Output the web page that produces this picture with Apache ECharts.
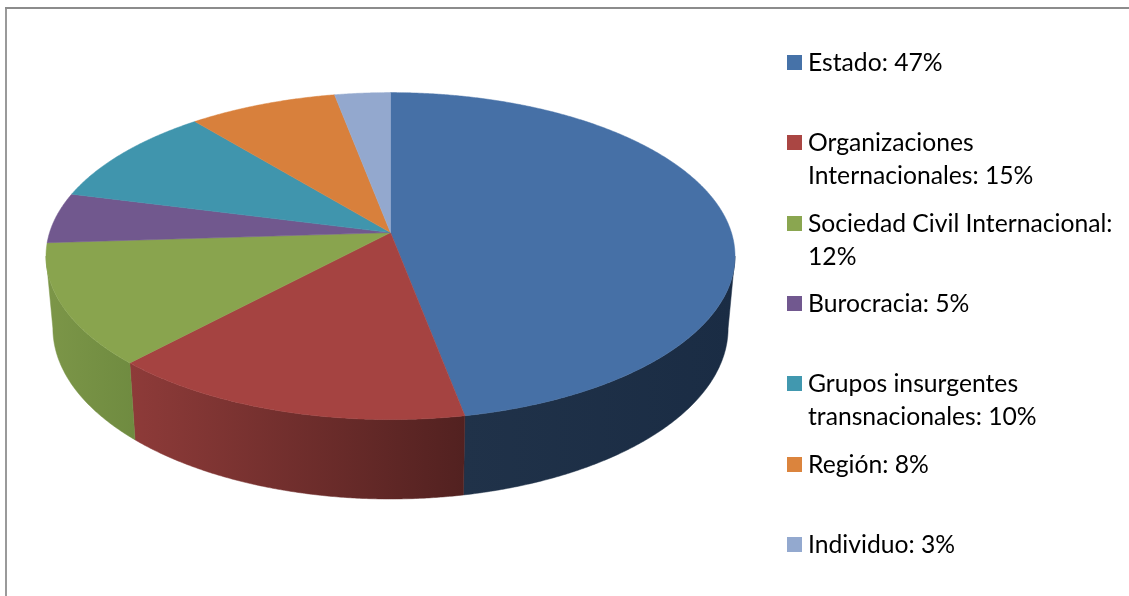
<!DOCTYPE html>
<html>
<head>
<meta charset="utf-8">
<title>Pie</title>
<script src="https://cdn.jsdelivr.net/npm/echarts@6/dist/echarts.min.js"></script>
<style>
  html, body { margin: 0; padding: 0; background: #fff; }
  #main { width: 1129px; height: 596px; }
</style>
</head>
<body>
<div id="main"></div>
<script>
const categories = ['Estado', 'Organizaciones Internacionales', 'Sociedad Civil Internacional', 'Burocracia', 'Grupos insurgentes transnacionales', 'Región', 'Individuo']
const values = [47, 15, 12, 5, 10, 8, 3]
const legendLabels = ['Estado: 47%', 'Organizaciones\nInternacionales: 15%', 'Sociedad Civil Internacional:\n12%', 'Burocracia: 5%', 'Grupos insurgentes\ntransnacionales: 10%', 'Región: 8%', 'Individuo: 3%']
const topColors = ['#4670a6', '#a54341', '#89a44e', '#71588e', '#4095ad', '#d8803c', '#93a8ce']
const legendColors = ['#4672a8', '#aa4643', '#8aa650', '#71588f', '#4198af', '#db843d', '#93a9cf']
// left and right colour of the wall shading
const wallColors = [['#203249', '#1a2c44'], ['#8e3b39', '#522120'], ['#7c9648', '#6f8b40']]

// perspective of the tilted disc
const tilt = 0.1437
const wallOffset = 0.4435
const wallScaleX = 0.98
const wallScaleY = 1.045
const edgeAngle = Math.acos(-tilt)

const total = values.reduce((a, b) => a + b, 0)

function project (angle, isBottom) {
  const u = Math.sin(angle)
  const v = -Math.cos(angle)
  const w = 1 - tilt * v
  if (isBottom) return [wallScaleX * u / w, wallOffset + wallScaleY * v / w]
  return [u / w, v / w]
}

function sliceAngles (i) {
  let before = 0
  for (let k = 0; k < i; k++) before += values[k]
  return [before / total * Math.PI * 2, (before + values[i]) / total * Math.PI * 2]
}

function arc (a0, a1, isBottom, api) {
  const pts = []
  const steps = Math.max(2, Math.ceil((a1 - a0) / 0.006))
  for (let s = 0; s <= steps; s++) {
    pts.push(api.coord(project(a0 + (a1 - a0) * s / steps, isBottom)))
  }
  return pts
}

function renderTop (params, api) {
  const i = params.dataIndex
  const [a0, a1] = sliceAngles(i)
  const points = [api.coord([0, 0])].concat(arc(a0, a1, false, api))
  return {
    type: 'polygon',
    shape: { points },
    style: { fill: topColors[i], stroke: topColors[i], lineWidth: 0.5 }
  }
}

function renderWall (params, api) {
  const i = params.dataIndex
  const [s0, s1] = sliceAngles(i)
  const a0 = Math.max(s0, edgeAngle)
  const a1 = Math.min(s1, Math.PI * 2 - edgeAngle)
  if (a1 <= a0) return null
  const points = arc(a0, a1, false, api).concat(arc(a0, a1, true, api).reverse())
  const pair = wallColors[i]
  const fill = new echarts.graphic.LinearGradient(0, 0, 1, 0, [
    { offset: 0, color: pair[0] },
    { offset: 1, color: pair[1] }
  ])
  return {
    type: 'polygon',
    shape: { points },
    style: { fill, stroke: fill, lineWidth: 0.5 }
  }
}

// frame and legend
const graphics = [
  { type: 'rect', shape: { x: 5, y: 7, width: 2, height: 589 }, style: { fill: '#9a9a9a' }, silent: true },
  { type: 'rect', shape: { x: 5, y: 7, width: 1124, height: 2 }, style: { fill: '#8c8c8c' }, silent: true }
]
const legendLeft = 787
const legendTop = 55
const legendStep = 80.33
const lineHeight = 32.5
legendLabels.forEach((label, i) => {
  const y = legendTop + legendStep * i
  graphics.push({
    type: 'rect',
    shape: { x: legendLeft, y: Math.round(y), width: 15, height: 15 },
    style: { fill: legendColors[i] },
    silent: true
  })
  graphics.push({
    type: 'text',
    x: 808,
    y: Math.round(y) + 8.5 - lineHeight / 2,
    style: {
      text: label,
      fill: '#000',
      font: '24.7px Lato',
      lineHeight,
      verticalAlign: 'top'
    },
    silent: true
  })
})

const seriesData = categories.map((name, i) => ({ name, value: [i, values[i]] }))

const option = {
  backgroundColor: '#fff',
  animation: false,
  grid: { left: 46, top: 92.6, width: 689, height: 406.4, containLabel: false },
  xAxis: { type: 'value', min: -1 / Math.sqrt(1 - tilt * tilt), max: 1 / Math.sqrt(1 - tilt * tilt), show: false },
  yAxis: { type: 'value', inverse: true, min: -1 / (1 + tilt), max: wallOffset + wallScaleY / (1 - tilt), show: false },
  graphic: graphics,
  series: [
    { type: 'custom', name: 'wall', z: 1, silent: true, clip: false, renderItem: renderWall, data: seriesData },
    { type: 'custom', name: 'top', z: 2, silent: true, clip: false, renderItem: renderTop, data: seriesData }
  ]
}

let myChart = echarts.init(document.getElementById('main'))
myChart.setOption(option)
</script>
</body>
</html>
